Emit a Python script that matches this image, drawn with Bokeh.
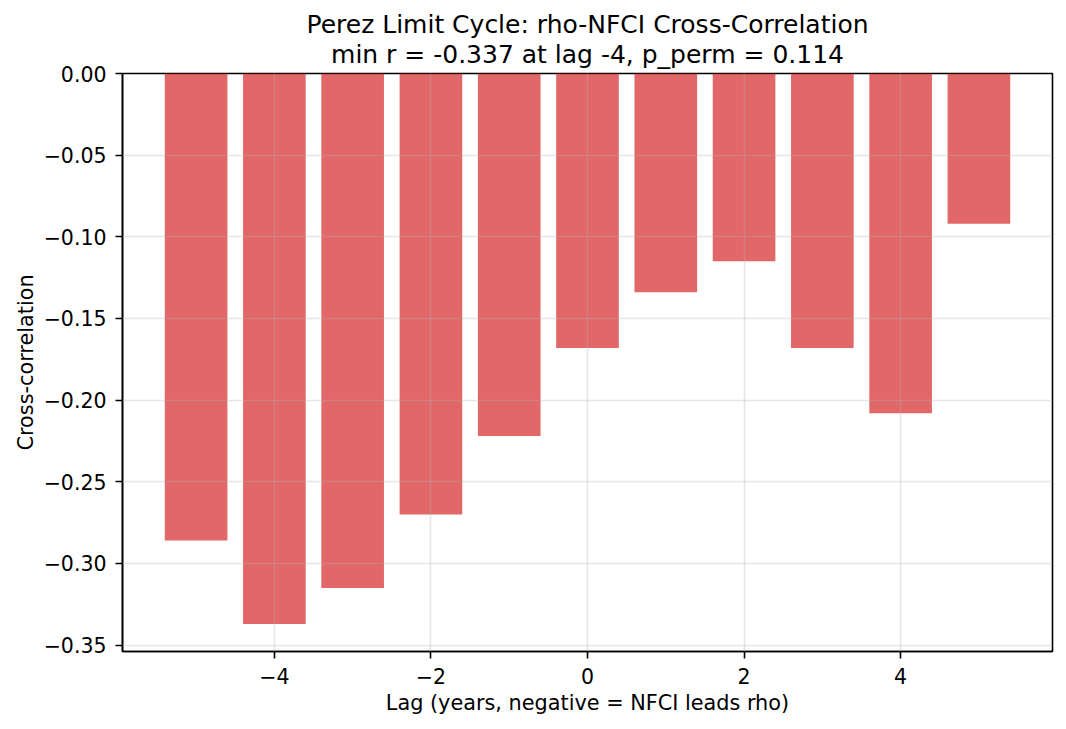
from bokeh.plotting import figure
from bokeh.models import Range1d, FixedTicker, Title, ColumnDataSource
from bokeh.embed import file_html
from bokeh.resources import INLINE

lags = [-5, -4, -3, -2, -1, 0, 1, 2, 3, 4, 5]
xcorr = [-0.286, -0.337, -0.315, -0.270, -0.222, -0.168, -0.134, -0.115, -0.168, -0.208, -0.092]
y_ticks = [-0.35, -0.30, -0.25, -0.20, -0.15, -0.10, -0.05, 0.0]
y_tick_labels = ["\u22120.35", "\u22120.30", "\u22120.25", "\u22120.20", "\u22120.15", "\u22120.10", "\u22120.05", "0.00"]
x_ticks = [-4, -2, 0, 2, 4]
x_tick_labels = ["\u22124", "\u22122", "0", "2", "4"]
title_1 = "Perez Limit Cycle: rho-NFCI Cross-Correlation"
title_2 = "min r = -0.337 at lag -4, p_perm = 0.114"
x_label = "Lag (years, negative = NFCI leads rho)"
y_label = "Cross-correlation"

FONT = "DejaVu Sans"

p = figure(width=1060, height=721, output_backend="svg", toolbar_location=None,
           x_range=Range1d(-5.94, 5.94), y_range=Range1d(-0.3539, 0.0),
           min_border_left=122, min_border_right=8, min_border_top=73, min_border_bottom=70)
p.title.visible = False

t2 = Title(text=title_2, align="center", text_font=FONT, text_font_size="25px",
           text_font_style="normal", text_color="black", standoff=9)
t1 = Title(text=title_1, align="center", text_font=FONT, text_font_size="25px",
           text_font_style="normal", text_color="black", standoff=-11)
p.add_layout(t2, "above")
p.add_layout(t1, "above")

src = ColumnDataSource(dict(x=lags, top=xcorr))
p.vbar(x="x", top="top", bottom=0, width=0.8, source=src,
       fill_color="#d62728", fill_alpha=0.7, line_color=None)

p.xaxis.ticker = FixedTicker(ticks=x_ticks)
p.xaxis.major_label_overrides = {t: l for t, l in zip(x_ticks, x_tick_labels)}
p.yaxis.ticker = FixedTicker(ticks=y_ticks)
p.yaxis.major_label_overrides = {t: l for t, l in zip(y_ticks, y_tick_labels)}

for ax in (p.xaxis[0], p.yaxis[0]):
    ax.axis_line_color = "black"
    ax.axis_line_width = 1.6
    ax.major_tick_line_color = "black"
    ax.major_tick_line_width = 1.6
    ax.major_tick_out = 7
    ax.major_tick_in = 0
    ax.minor_tick_line_color = None
    ax.major_label_text_font = FONT
    ax.major_label_text_font_size = "20.5px"
    ax.major_label_text_color = "black"
    ax.major_label_standoff = 9
    ax.axis_label_text_font = FONT
    ax.axis_label_text_font_size = "20.8px"
    ax.axis_label_text_font_style = "normal"
    ax.axis_label_text_color = "black"
p.xaxis.axis_label_standoff = 4
p.yaxis.axis_label_standoff = 3

p.xaxis.axis_label = x_label
p.yaxis.axis_label = y_label

p.outline_line_color = "black"
p.outline_line_width = 1.6
p.outline_line_alpha = 1.0

for g in (p.xgrid[0], p.ygrid[0]):
    g.grid_line_color = "#b0b0b0"
    g.grid_line_alpha = 0.3
    g.grid_line_width = 1.6
    g.level = "guide"
p.xgrid.ticker = FixedTicker(ticks=x_ticks)
p.ygrid.ticker = FixedTicker(ticks=y_ticks)

open("out.html", "w").write(file_html(p, INLINE))
